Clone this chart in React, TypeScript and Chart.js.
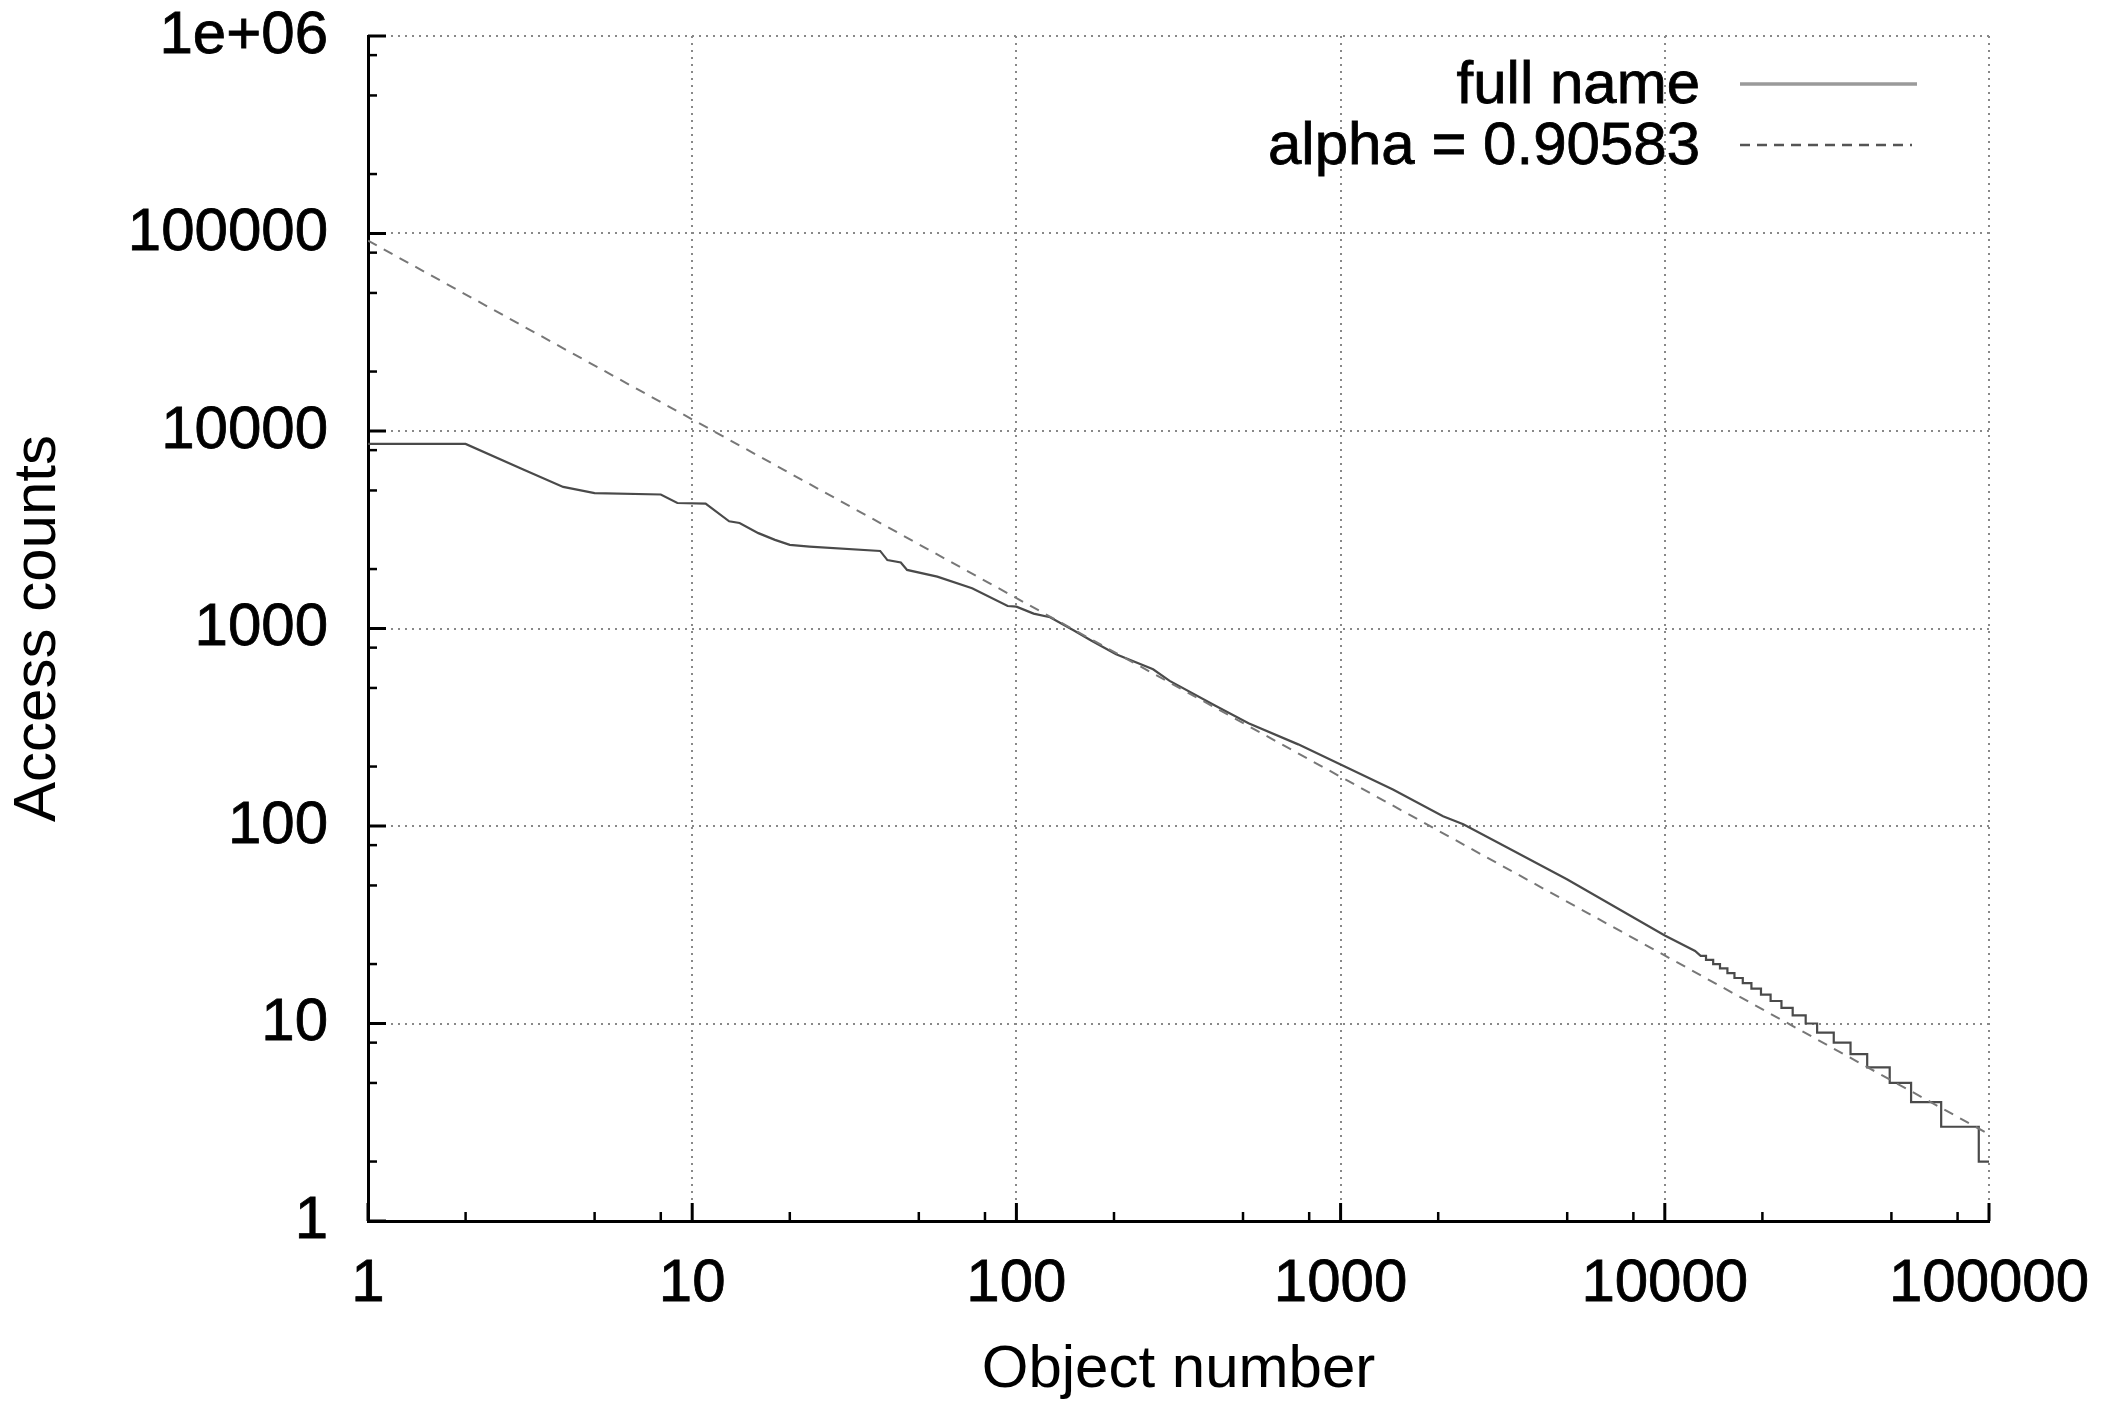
import React, { useEffect, useRef } from 'react';
import { Chart, registerables } from 'chart.js';

Chart.register(...registerables);

// ---- Data ----
const seriesLabels = ['full name', 'alpha = 0.90583'];

// smooth (dense) part of the "full name" curve
const fullNameX = [1, 2, 3, 4, 5, 8, 9, 11, 13, 14, 16, 18, 20, 23, 38, 40, 44, 46, 57, 73, 94, 100, 113, 127, 150, 170, 203, 264, 297, 411, 520, 740, 1000, 1450, 2070, 2390, 3210, 4990, 10000, 12400, 12900];
const fullNameY = [8600, 8600, 6400, 5210, 4850, 4770, 4320, 4290, 3490, 3420, 3040, 2810, 2650, 2600, 2470, 2220, 2160, 1980, 1830, 1600, 1300, 1290, 1190, 1140, 980, 870, 741, 622, 543, 406, 331, 259, 205, 153, 112, 102, 79, 53.7, 27.9, 23.3, 22];

// stepped tail of the "full name" curve: level values and the x where each drop happens
const stepLevels = [22, 21, 20, 19, 18, 17, 16, 15, 14, 13, 12, 11, 10, 9, 8, 7, 6, 5, 4, 3, 2];
const stepDropX = [13400, 14100, 14800, 15600, 16400, 17400, 18500, 19800, 21200, 22900, 24800, 27200, 29500, 33200, 37400, 42100, 49400, 57500, 71200, 93000];
const tailEndX = 100000;

// fitted power law (straight dashed line), endpoints
const fitX = [1, 100000];
const fitY = [92000, 2.75];

// axes
const xTickValues = [1, 10, 100, 1000, 10000, 100000];
const xTickLabels = ['1', '10', '100', '1000', '10000', '100000'];
const yTickValues = [1, 10, 100, 1000, 10000, 100000, 1000000];
const yTickLabels = ['1', '10', '100', '1000', '10000', '100000', '1e+06'];
const minorTickMultipliers = [2, 5, 8];
const xTitle = 'Object number';
const yTitle = 'Access counts';

const FONT = "'Liberation Sans', Arial, Helvetica, sans-serif";
const FS = 60;

function buildFullName() {
  const pts: { x: number; y: number }[] = fullNameX.map((x, i) => ({ x, y: fullNameY[i] }));
  for (let i = 0; i < stepDropX.length; i++) {
    pts.push({ x: stepDropX[i], y: stepLevels[i] });
    pts.push({ x: stepDropX[i], y: stepLevels[i + 1] });
  }
  pts.push({ x: tailEndX, y: stepLevels[stepLevels.length - 1] });
  return pts;
}

const decorPlugin = {
  id: 'decor',
  afterDatasetsDraw(chart: any) {
    const { ctx, chartArea, scales } = chart;
    const xs = scales.x;
    const ys = scales.y;
    ctx.save();
    ctx.strokeStyle = '#000';
    ctx.lineCap = 'butt';
    // x ticks (inward)
    for (let d = 0; d < xTickValues.length; d++) {
      const v = xTickValues[d];
      const px = xs.getPixelForValue(v);
      ctx.lineWidth = 3;
      ctx.beginPath();
      ctx.moveTo(px, chartArea.bottom);
      ctx.lineTo(px, chartArea.bottom - 18);
      ctx.stroke();
      if (d < xTickValues.length - 1) {
        for (const m of minorTickMultipliers) {
          const mx = xs.getPixelForValue(v * m);
          ctx.lineWidth = 2.5;
          ctx.beginPath();
          ctx.moveTo(mx, chartArea.bottom);
          ctx.lineTo(mx, chartArea.bottom - 9);
          ctx.stroke();
        }
      }
    }
    // y ticks (inward)
    for (let d = 0; d < yTickValues.length; d++) {
      const v = yTickValues[d];
      const py = ys.getPixelForValue(v);
      ctx.lineWidth = 3;
      ctx.beginPath();
      ctx.moveTo(chartArea.left, py);
      ctx.lineTo(chartArea.left + 18, py);
      ctx.stroke();
      if (d < yTickValues.length - 1) {
        for (const m of minorTickMultipliers) {
          const my = ys.getPixelForValue(v * m);
          ctx.lineWidth = 2.5;
          ctx.beginPath();
          ctx.moveTo(chartArea.left, my);
          ctx.lineTo(chartArea.left + 9, my);
          ctx.stroke();
        }
      }
    }
    // legend (gnuplot style: text right-aligned, sample to the right)
    ctx.font = `${FS}px ${FONT}`;
    ctx.fillStyle = '#000';
    ctx.strokeStyle = '#000';
    ctx.lineWidth = 0.8;
    ctx.textAlign = 'right';
    ctx.textBaseline = 'middle';
    const textRight = 1700;
    const rows = [84, 145];
    ctx.fillText(seriesLabels[0], textRight, rows[0] + 2);
    ctx.strokeText(seriesLabels[0], textRight, rows[0] + 2);
    ctx.fillText(seriesLabels[1], textRight, rows[1] + 2);
    ctx.strokeText(seriesLabels[1], textRight, rows[1] + 2);
    ctx.strokeStyle = '#9a9a9a';
    ctx.lineWidth = 3.5;
    ctx.setLineDash([]);
    ctx.beginPath();
    ctx.moveTo(1740, rows[0]);
    ctx.lineTo(1917, rows[0]);
    ctx.stroke();
    ctx.strokeStyle = '#555';
    ctx.lineWidth = 2.5;
    ctx.setLineDash([10, 7]);
    ctx.beginPath();
    ctx.moveTo(1740, rows[1]);
    ctx.lineTo(1912, rows[1]);
    ctx.stroke();
    ctx.restore();
  },
};

export default function App() {
  const canvasRef = useRef<HTMLCanvasElement | null>(null);

  useEffect(() => {
    const canvas = canvasRef.current;
    if (!canvas) return;
    const chart = new Chart(canvas, {
      type: 'line',
      data: {
        datasets: [
          {
            label: seriesLabels[1],
            data: fitX.map((x, i) => ({ x, y: fitY[i] })),
            borderColor: '#777',
            borderWidth: 2,
            borderDash: [10, 8],
            pointRadius: 0,
            fill: false,
            tension: 0,
          },
          {
            label: seriesLabels[0],
            data: buildFullName(),
            borderColor: '#4a4a4a',
            borderWidth: 2.2,
            pointRadius: 0,
            fill: false,
            tension: 0,
          },
        ],
      },
      options: {
        animation: false,
        responsive: false,
        maintainAspectRatio: false,
        layout: { padding: { top: 36, right: 112, left: 0, bottom: 0 } },
        plugins: {
          legend: { display: false },
          tooltip: { enabled: false },
        },
        scales: {
          x: {
            type: 'logarithmic',
            min: 1,
            max: 100000,
            afterBuildTicks: (scale: any) => {
              scale.ticks = xTickValues.map((v) => ({ value: v }));
            },
            afterFit: (scale: any) => {
              scale.height = 183;
              scale.paddingLeft = 0;
              scale.paddingRight = 0;
            },
            ticks: {
              autoSkip: false,
              maxRotation: 0,
              padding: 27,
              color: '#000',
              textStrokeColor: '#000',
              textStrokeWidth: 0.8,
              font: { family: FONT, size: FS },
              callback: (v: any) => {
                const i = xTickValues.indexOf(Number(v));
                return i >= 0 ? xTickLabels[i] : '';
              },
            },
            grid: {
              color: '#888',
              lineWidth: 2,
              drawTicks: false,
            },
            border: { display: true, color: '#000', width: 3, dash: [2, 5] },
            title: {
              display: true,
              text: xTitle,
              color: '#000',
              font: { family: FONT, size: FS, lineHeight: 1 },
              padding: { top: 0, bottom: 4 },
            },
          },
          y: {
            type: 'logarithmic',
            min: 1,
            max: 1000000,
            afterBuildTicks: (scale: any) => {
              scale.ticks = yTickValues.map((v) => ({ value: v }));
            },
            afterFit: (scale: any) => {
              scale.width = 368;
              scale.paddingTop = 0;
              scale.paddingBottom = 0;
            },
            ticks: {
              autoSkip: false,
              padding: 40,
              color: '#000',
              textStrokeColor: '#000',
              textStrokeWidth: 0.8,
              font: { family: FONT, size: FS },
              callback: (v: any) => {
                const i = yTickValues.indexOf(Number(v));
                return i >= 0 ? yTickLabels[i] : '';
              },
            },
            grid: {
              color: '#888',
              lineWidth: 2,
              drawTicks: false,
            },
            border: { display: true, color: '#000', width: 3, dash: [2, 5] },
            title: {
              display: true,
              text: yTitle,
              color: '#000',
              font: { family: FONT, size: FS, lineHeight: 1 },
              padding: { top: 8, bottom: 0 },
            },
          },
        },
      },
      plugins: [decorPlugin],
    } as any);
    return () => chart.destroy();
  }, []);

  return (
    <div style={{ position: 'fixed', left: 0, top: 0, width: 2101, height: 1404, background: '#fff' }}>
      <canvas ref={canvasRef} width={2101} height={1404} style={{ width: 2101, height: 1404, display: 'block' }} />
    </div>
  );
}
